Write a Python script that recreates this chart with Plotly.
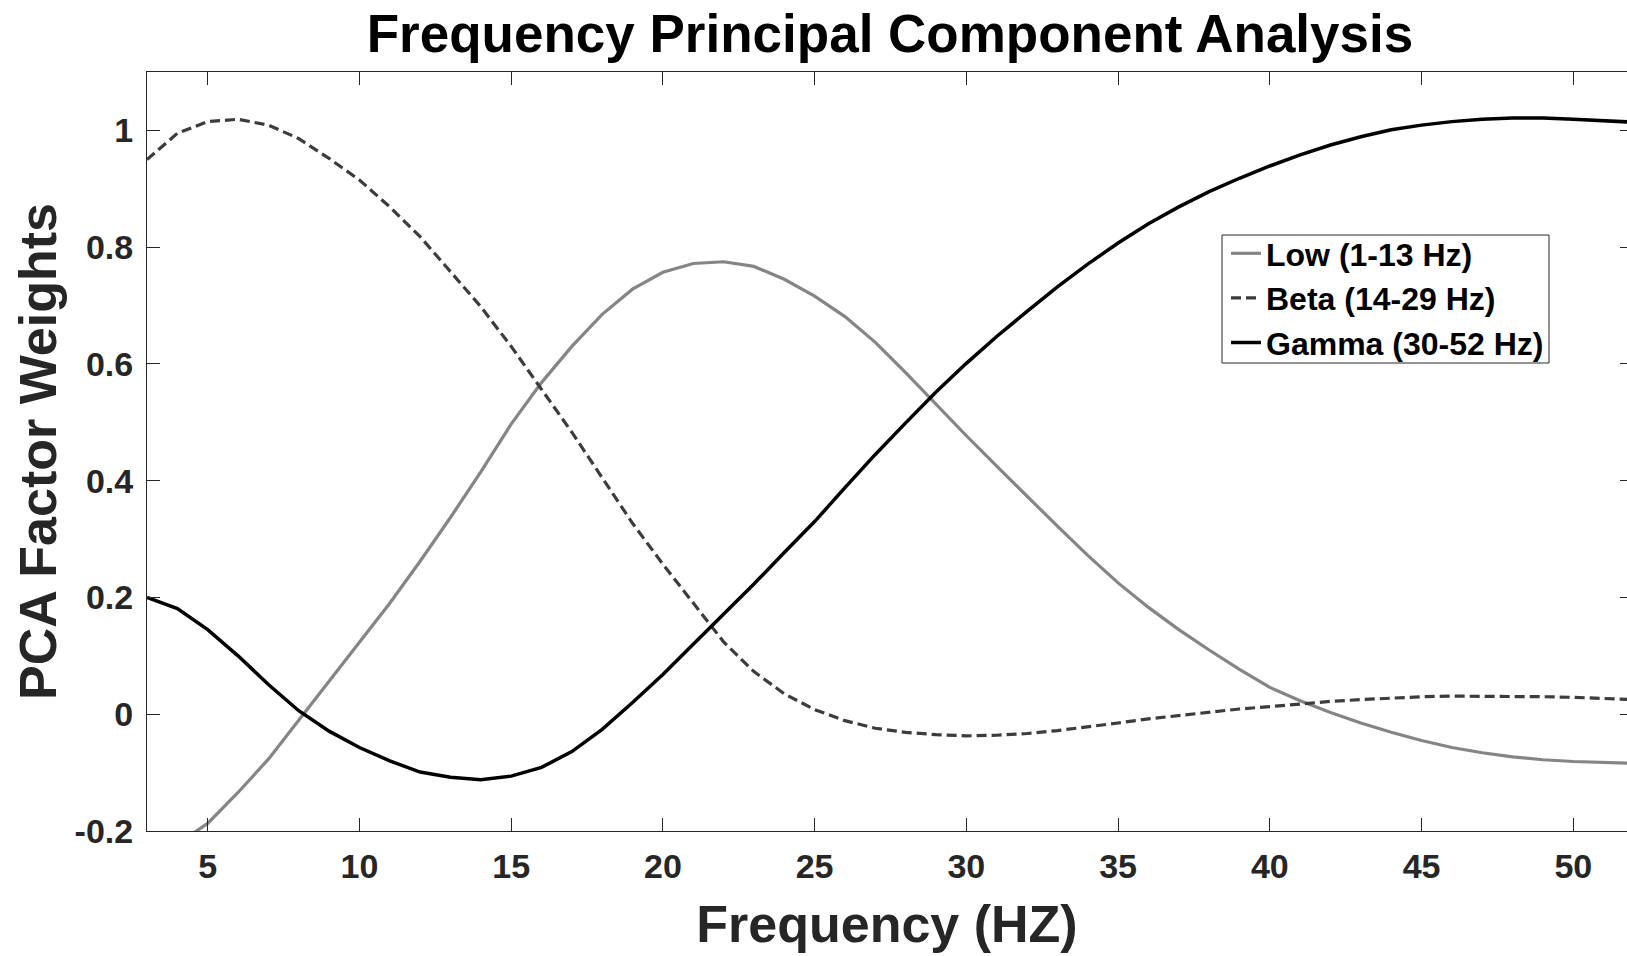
import plotly.graph_objects as go

freq = [3, 4, 5, 6, 7, 8, 9, 10, 11, 12, 13, 14, 15, 16, 17, 18, 19, 20, 21, 22,
        23, 24, 25, 26, 27, 28, 29, 30, 31, 32, 33, 34, 35, 36, 37, 38, 39, 40, 41, 42,
        43, 44, 45, 46, 47, 48, 49, 50, 51, 52]

low = [-0.250, -0.222, -0.187, -0.134, -0.077, -0.010, 0.057, 0.123, 0.190, 0.262,
       0.337, 0.415, 0.497, 0.568, 0.630, 0.685, 0.728, 0.757, 0.772, 0.775,
       0.767, 0.745, 0.716, 0.681, 0.637, 0.585, 0.530, 0.477, 0.425, 0.373,
       0.322, 0.272, 0.225, 0.183, 0.145, 0.110, 0.077, 0.046, 0.023, 0.003,
       -0.015, -0.031, -0.045, -0.057, -0.066, -0.073, -0.078, -0.081, -0.083, -0.084]

beta = [0.950, 0.995, 1.015, 1.019, 1.009, 0.986, 0.952, 0.915, 0.869, 0.818,
        0.758, 0.698, 0.630, 0.556, 0.483, 0.405, 0.327, 0.257, 0.190, 0.124,
        0.073, 0.035, 0.008, -0.011, -0.024, -0.031, -0.035, -0.037, -0.036, -0.033,
        -0.028, -0.022, -0.015, -0.008, -0.002, 0.004, 0.009, 0.013, 0.018, 0.022,
        0.025, 0.028, 0.030, 0.031, 0.031, 0.031, 0.030, 0.029, 0.027, 0.025]

gamma = [0.200, 0.181, 0.145, 0.100, 0.051, 0.006, -0.029, -0.057, -0.080, -0.099,
         -0.108, -0.112, -0.106, -0.091, -0.064, -0.026, 0.020, 0.068, 0.120, 0.171,
         0.223, 0.277, 0.330, 0.388, 0.445, 0.499, 0.552, 0.601, 0.647, 0.690,
         0.732, 0.771, 0.807, 0.840, 0.869, 0.895, 0.918, 0.939, 0.958, 0.975,
         0.989, 1.001, 1.009, 1.015, 1.019, 1.021, 1.021, 1.019, 1.017, 1.014]

series_names = ["Low (1-13 Hz)", "Beta (14-29 Hz)", "Gamma (30-52 Hz)"]

xtick_vals = [5, 10, 15, 20, 25, 30, 35, 40, 45, 50]
xtick_text = ["5", "10", "15", "20", "25", "30", "35", "40", "45", "50"]
ytick_vals = [-0.2, 0, 0.2, 0.4, 0.6, 0.8, 1.0]
ytick_text = ["-0.2", "0", "0.2", "0.4", "0.6", "0.8", "1"]

FONT = "Liberation Sans, Arial, Helvetica, sans-serif"
AX = "#262626"

# plot-area geometry (pixels) used to place the legend frame
L, R, T, B = 147, 1627, 72, 831
PW, PH = R - L, B - T


def px_x(p):
    return (p - L) / PW


def px_y(p):
    return (B - p) / PH


fig = go.Figure()
fig.add_trace(go.Scatter(x=freq, y=low, mode="lines", name=series_names[0],
                         line=dict(color="#858585", width=3.2)))
fig.add_trace(go.Scatter(x=freq, y=beta, mode="lines", name=series_names[1],
                         line=dict(color="#3c3c3c", width=3.2, dash="10px,5px")))
fig.add_trace(go.Scatter(x=freq, y=gamma, mode="lines", name=series_names[2],
                         line=dict(color="#000000", width=3.5)))
# invisible trace for right-side mirrored ticks
fig.add_trace(go.Scatter(x=freq, y=gamma, mode="lines", yaxis="y2", showlegend=False,
                         hoverinfo="skip", line=dict(color="rgba(0,0,0,0)", width=0)))

fig.update_layout(
    width=1627, height=956,
    margin=dict(l=L, r=1627 - R, t=T, b=956 - B),
    paper_bgcolor="white", plot_bgcolor="white",
    font=dict(family=FONT, color=AX),
    title=dict(text="Frequency Principal Component Analysis",
               font=dict(family=FONT, size=53, color="#000000", weight="bold"),
               x=890 / 1627, xref="container", xanchor="center",
               y=1 - 33 / 956, yref="container", yanchor="middle"),
    xaxis=dict(range=[3, 51.77], tickvals=xtick_vals, ticktext=xtick_text,
               showgrid=False, zeroline=False, showline=True, linecolor=AX, linewidth=1,
               mirror="ticks", ticks="inside", ticklen=13, tickcolor=AX, tickwidth=1,
               tickfont=dict(family=FONT, size=34, color=AX, weight="bold"),
               ticklabelstandoff=5,
               title=dict(text="Frequency (HZ)", standoff=21,
                          font=dict(family=FONT, size=52, color=AX, weight="bold"))),
    yaxis=dict(range=[-0.2, 1.1], tickvals=ytick_vals, ticktext=ytick_text,
               showgrid=False, zeroline=False, showline=True, linecolor=AX, linewidth=1,
               mirror=False, ticks="inside", ticklen=13, tickcolor=AX, tickwidth=1,
               tickfont=dict(family=FONT, size=34, color=AX, weight="bold"),
               ticklabelstandoff=6,
               title=dict(text="PCA Factor Weights", standoff=1,
                          font=dict(family=FONT, size=52, color=AX, weight="bold"))),
    yaxis2=dict(range=[-0.2, 1.1], tickvals=ytick_vals, overlaying="y", side="right",
                showgrid=False, zeroline=False, showline=False, ticks="inside",
                ticklen=7, tickcolor=AX, tickwidth=1, showticklabels=False),
    legend=dict(x=px_x(1226), y=px_y(226), xanchor="left", yanchor="top",
                bgcolor="rgba(0,0,0,0)", borderwidth=0,
                font=dict(family=FONT, size=32, color="#000000", weight="bold"),
                itemwidth=30, tracegroupgap=0),
    showlegend=True,
    shapes=[dict(type="rect", xref="paper", yref="paper",
                 x0=px_x(1222), x1=px_x(1549), y0=px_y(363), y1=px_y(235),
                 line=dict(color=AX, width=1), fillcolor="white", layer="below")],
)

fig.write_html("out.html", config={"displayModeBar": False},
               post_script="document.body.style.margin='0px';document.body.style.overflow='hidden';")
